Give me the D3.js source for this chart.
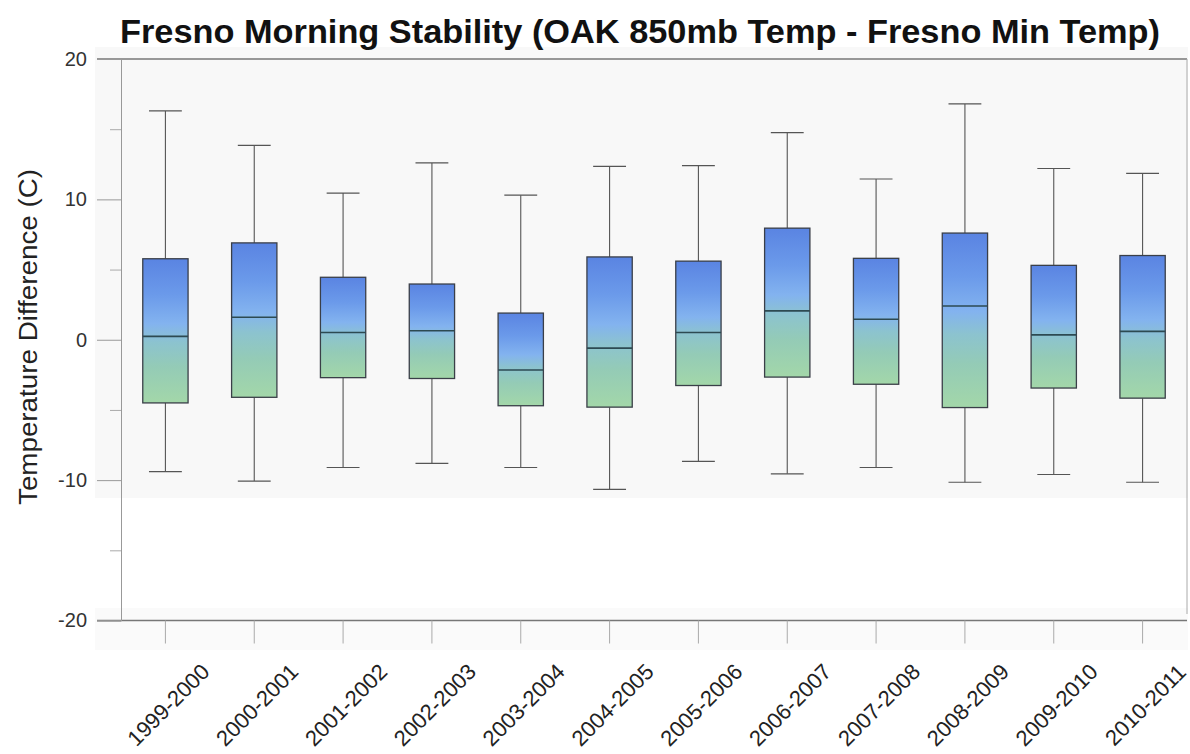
<!DOCTYPE html>
<html>
<head>
<meta charset="utf-8">
<script src="https://cdn.jsdelivr.net/npm/d3@7"></script>
<style>
  html, body { margin: 0; padding: 0; background: #ffffff; }
  svg { display: block; }
  text { font-family: "Liberation Sans", Arial, Helvetica, sans-serif; }
</style>
</head>
<body>
<svg id="chart" width="1190" height="754"></svg>
<script>
const categories = ["1999-2000","2000-2001","2001-2002","2002-2003","2003-2004","2004-2005",
                    "2005-2006","2006-2007","2007-2008","2008-2009","2009-2010","2010-2011"];
const whiskerHigh = [16.3, 13.85, 10.45, 12.6, 10.3, 12.35, 12.4, 14.75, 11.45, 16.8, 12.2, 11.85];
const q3          = [5.77, 6.9, 4.45, 3.97, 1.9, 5.9, 5.6, 7.95, 5.8, 7.6, 5.3, 6.0];
const median      = [0.24, 1.6, 0.52, 0.64, -2.15, -0.6, 0.52, 2.06, 1.46, 2.4, 0.35, 0.6];
const q1          = [-4.5, -4.1, -2.7, -2.76, -4.7, -4.8, -3.26, -2.66, -3.17, -4.83, -3.44, -4.16];
const whiskerLow  = [-9.4, -10.07, -9.1, -8.8, -9.1, -10.66, -8.67, -9.55, -9.1, -10.15, -9.6, -10.15];
const yTicks = [-20, -10, 0, 10, 20];
const yMinorTicks = [-15, -5, 5, 15];
const titleText = "Fresno Morning Stability (OAK 850mb Temp - Fresno Min Temp)";
const yLabelText = "Temperature Difference (C)";

(function () {
const data = categories.map((c, i) => ({
  cat: c, hi: whiskerHigh[i], q3: q3[i], med: median[i], q1: q1[i], lo: whiskerLow[i]
}));

const svg = d3.select("#chart");
const pLeft = 121, pRight = 1187, pTop = 59, pBottom = 620.5;

const x = d3.scaleBand().domain(categories).range([pLeft, pRight]).paddingInner(0).paddingOuter(0);
const y = d3.scaleLinear().domain([-20, 20]).range([pBottom, pTop]);

// faint scan-like background
svg.append("rect").attr("x", 95).attr("y", 47).attr("width", 1093).attr("height", 451).attr("fill", "#f8f8f8");
svg.append("rect").attr("x", 95).attr("y", 608).attr("width", 1093).attr("height", 42).attr("fill", "#fafafa");

// gradient
const defs = svg.append("defs");
const grad = defs.append("linearGradient").attr("id", "boxGrad")
  .attr("x1", 0).attr("y1", 0).attr("x2", 0).attr("y2", 1);
[[0, "#5a84e2"], [0.25, "#6b9aea"], [0.45, "#83b3ef"], [0.58, "#8cc3cf"], [0.75, "#94cbb6"], [1, "#a3d7a9"]]
  .forEach(([o, c]) => grad.append("stop").attr("offset", o).attr("stop-color", c));

// frame lines
const frame = svg.append("g").attr("stroke", "#777").attr("fill", "none");
frame.append("line").attr("x1", 97).attr("x2", pRight).attr("y1", y(20)).attr("y2", y(20)).attr("stroke-width", 1.3);
frame.append("line").attr("x1", 97).attr("x2", pRight).attr("y1", y(-20)).attr("y2", y(-20)).attr("stroke-width", 1.3);
frame.append("line").attr("x1", pRight).attr("x2", pRight).attr("y1", y(20)).attr("y2", 614).attr("stroke", "#aaa");

// y axis
const yAxis = d3.axisLeft(y).tickValues(yTicks).tickSize(24).tickPadding(10).tickFormat(d => String(d));
const yg = svg.append("g").attr("transform", `translate(${pLeft},0)`).call(yAxis);
yg.select(".domain").attr("stroke", "#999").attr("stroke-width", 1);
yg.selectAll(".tick line").attr("stroke", "#999");
yg.selectAll(".tick text").attr("font-size", 20).attr("fill", "#333")
  .attr("font-family", "'Liberation Sans', Arial, sans-serif");
const yMinor = d3.axisLeft(y).tickValues(yMinorTicks).tickSize(11).tickFormat("");
const ymg = svg.append("g").attr("transform", `translate(${pLeft},0)`).call(yMinor);
ymg.select(".domain").remove();
ymg.selectAll(".tick line").attr("stroke", "#aaa");

// x axis
const xAxis = d3.axisBottom(x).tickSize(23).tickFormat("");
const xg = svg.append("g").attr("transform", `translate(0,${pBottom})`).call(xAxis);
xg.select(".domain").remove();
xg.selectAll(".tick line").attr("stroke", "#aaa");

svg.append("g").selectAll("text").data(categories).join("text")
  .attr("transform", d => `translate(${x(d) + x.bandwidth() / 2 + 3},705) rotate(-45)`)
  .attr("text-anchor", "middle")
  .attr("dominant-baseline", "central")
  .attr("font-size", 22)
  .attr("fill", "#222")
  .text(d => d);

// boxes
const bw = x.bandwidth();
const boxW = bw * 0.51;
const capW = bw * 0.37;
const g = svg.append("g").selectAll("g").data(data).join("g")
  .attr("transform", d => `translate(${x(d.cat) + bw / 2},0)`);

g.append("line").attr("x1", 0).attr("x2", 0).attr("y1", d => y(d.hi)).attr("y2", d => y(d.q3))
  .attr("stroke", "#555").attr("stroke-width", 1.1);
g.append("line").attr("x1", 0).attr("x2", 0).attr("y1", d => y(d.q1)).attr("y2", d => y(d.lo))
  .attr("stroke", "#555").attr("stroke-width", 1.1);
g.append("line").attr("x1", -capW / 2).attr("x2", capW / 2).attr("y1", d => y(d.hi)).attr("y2", d => y(d.hi))
  .attr("stroke", "#555").attr("stroke-width", 1.2);
g.append("line").attr("x1", -capW / 2).attr("x2", capW / 2).attr("y1", d => y(d.lo)).attr("y2", d => y(d.lo))
  .attr("stroke", "#555").attr("stroke-width", 1.2);
g.append("rect").attr("x", -boxW / 2).attr("width", boxW)
  .attr("y", d => y(d.q3)).attr("height", d => y(d.q1) - y(d.q3))
  .attr("fill", "url(#boxGrad)").attr("stroke", "#3a3f48").attr("stroke-width", 1.3);
g.append("line").attr("x1", -boxW / 2).attr("x2", boxW / 2).attr("y1", d => y(d.med)).attr("y2", d => y(d.med))
  .attr("stroke", "#2d4a52").attr("stroke-width", 1.6);

// title
svg.append("text").attr("x", 640).attr("y", 43).attr("text-anchor", "middle")
  .attr("font-family", "'Liberation Sans Narrow', 'Liberation Sans', Arial, sans-serif")
  .attr("font-size", 34).attr("font-weight", "bold").attr("fill", "#111")
  .attr("textLength", 1040).attr("lengthAdjust", "spacingAndGlyphs")
  .text(titleText);

// y label
svg.append("text").attr("transform", "translate(37,337) rotate(-90)").attr("text-anchor", "middle")
  .attr("font-size", 25).attr("fill", "#222")
  .attr("textLength", 336).attr("lengthAdjust", "spacingAndGlyphs")
  .text(yLabelText);
})();
</script>
</body>
</html>
